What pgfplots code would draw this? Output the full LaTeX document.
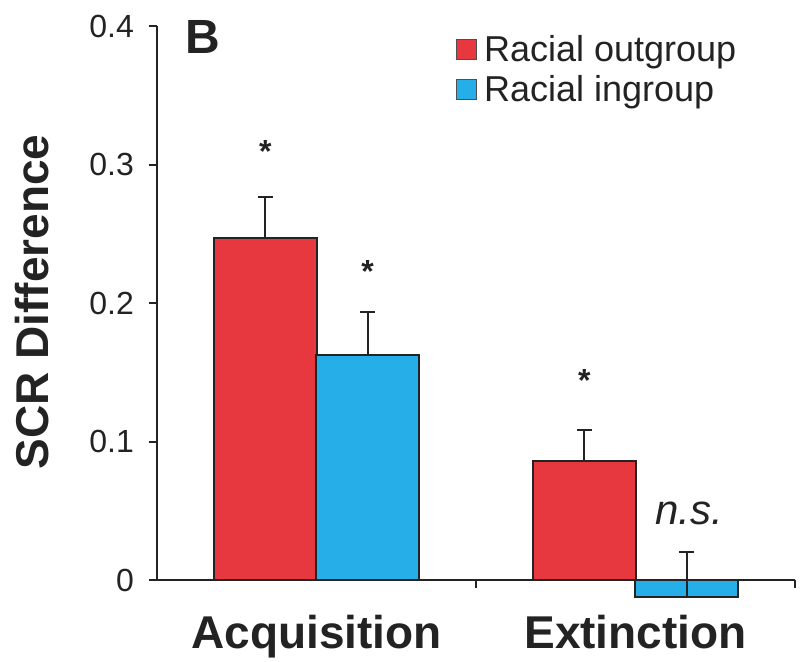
\documentclass[border=0pt]{standalone}
\usepackage{fontspec}
\setmainfont{Liberation Sans}
\usepackage{pgfplots}
\pgfplotsset{compat=1.18}
\definecolor{rred}{RGB}{232,56,63}
\definecolor{rblue}{RGB}{38,174,232}
\definecolor{ink}{RGB}{35,35,35}
\begin{document}
\begin{tikzpicture}
\begin{axis}[
  name=ax,
  scale only axis, width=319pt, height=277pt,
  xmin=-0.5, xmax=1.5, ymin=0, ymax=0.4,
  clip=false,
  axis lines*=left,
  axis line style={line width=1.2pt, ink},
  tick align=outside,
  major tick length=4pt,
  tick style={line width=1pt, ink},
  ytick={0,0.1,0.2,0.3,0.4},
  yticklabels={0,0.1,0.2,0.3,0.4},
  yticklabel style={font=\fontsize{16}{18}\selectfont, text=ink, xshift=-4pt},
  xtick={0.5,1.5}, xticklabels={},
  extra x ticks={0,1},
  extra x tick labels={Acquisition,Extinction},
  extra x tick style={major tick length=0pt,
     tick label style={font=\fontsize{23}{26}\selectfont\bfseries, text=ink, anchor=base, yshift=-34pt}},
  ylabel={SCR Difference},
  ylabel style={font=\fontsize{23}{26}\selectfont\bfseries, text=ink,
     at={(axis description cs:-0.196,0.502)}, anchor=center},
  legend style={at={(axis description cs:0.468,0.988)}, anchor=north west,
     draw=none, fill=none, font=\fontsize{18}{20}\selectfont, text=ink,
     row sep=3.5pt, inner sep=0pt,
     nodes={inner xsep=3.5pt, inner ysep=1pt}},
  legend cell align=left,
]
\addplot[ybar, bar width=0.323, fill=rred, draw=ink, line width=1pt,
  legend image code/.code={\draw[fill=rred, draw=ink!80, line width=0.6pt] (0pt,-5pt) rectangle (10pt,5pt);},
  error bars/.cd, y dir=plus, y explicit,
  error bar style={line width=1pt, ink},
  error mark options={rotate=90, mark size=3.75pt, line width=1pt, ink}]
  coordinates {(-0.16,0.247) +- (0,0.0295) (0.84,0.086) +- (0,0.022)};
\addlegendentry{Racial outgroup}
\addplot[ybar, bar width=0.323, fill=rblue, draw=ink, line width=1pt,
  legend image code/.code={\draw[fill=rblue, draw=ink!80, line width=0.6pt] (0pt,-5pt) rectangle (10pt,5pt);},
  error bars/.cd, y dir=plus, y explicit,
  error bar style={line width=1pt, ink},
  error mark options={rotate=90, mark size=3.75pt, line width=1pt, ink}]
  coordinates {(0.16,0.1625) +- (0,0.031) (1.16,-0.0123) +- (0,0.0323)};
\addlegendentry{Racial ingroup}
\addplot[draw=none, mark=none, forget plot,
  nodes near coords={*},
  every node near coord/.style={font=\fontsize{16}{18}\selectfont\bfseries, text=ink, anchor=base, yshift=-8pt}]
  coordinates {(-0.16,0.313) (0.16,0.226) (0.84,0.148)};
\addplot[draw=none, mark=none, forget plot,
  nodes near coords={\itshape n.s.},
  every node near coord/.style={font=\fontsize{21}{24}\selectfont, text=ink, anchor=center}]
  coordinates {(1.168,0.048)};
\node[font=\fontsize{24}{26}\selectfont\bfseries, text=ink, anchor=center] at (axis description cs:0.072,0.980) {B};
\end{axis}
\pgfresetboundingbox
\path[use as bounding box] ([shift={(-78.5pt,-40.5pt)}]ax.south west) rectangle ([shift={(321.5pt,290pt)}]ax.south west);
\end{tikzpicture}
\end{document}
